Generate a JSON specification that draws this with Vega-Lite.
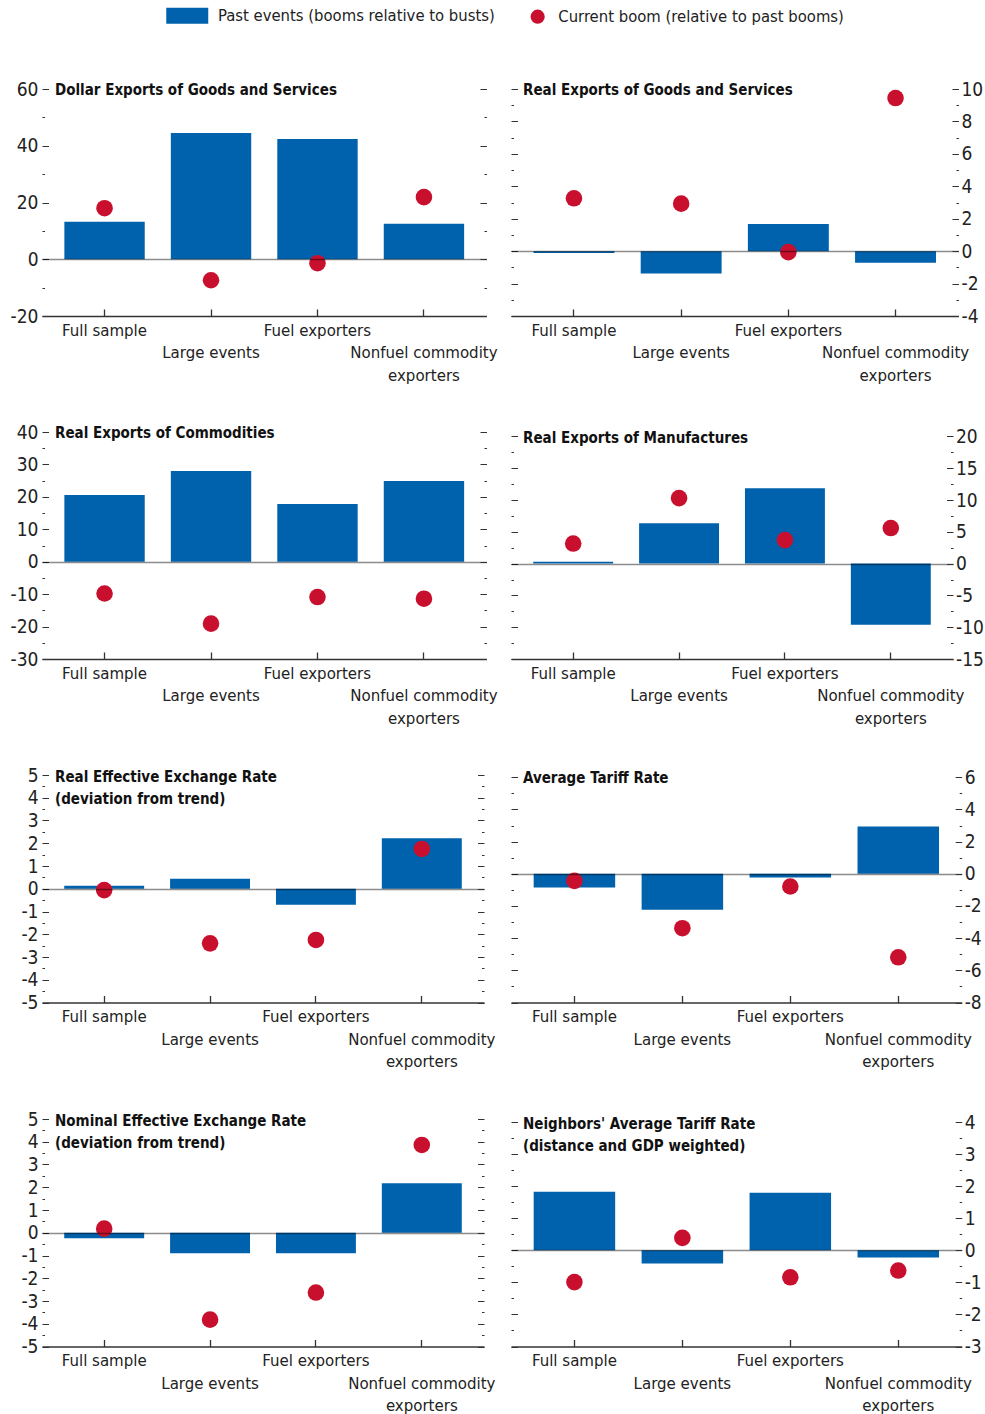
{
  "$schema": "https://vega.github.io/schema/vega-lite/v6.json",
  "padding": {"left": 10, "top": 7, "right": 2, "bottom": 2},
  "background": "white",
  "bounds": "flush",
  "columns": 2,
  "spacing": {"row": 116, "column": 24},
  "config": {
    "view": {"stroke": null},
    "font": "Noto Sans Condensed, DejaVu Sans Condensed, Roboto",
    "axis": {"labelFont": "Noto Sans Condensed, DejaVu Sans Condensed, Roboto", "labelFontSize": 19, "labelColor": "#222", "grid": false, "title": null, "tickColor": "#333", "tickWidth": 1},
    "axisX": {"domain": true, "domainColor": "#333", "domainWidth": 1.5, "tickSize": -7, "labelPadding": 13, "labelFontSize": 16.7, "labelAngle": 0, "labelOverlap": false, "labelLimit": 0, "labelLineHeight": 22.5, "tickWidth": 1.3},
    "axisY": {"domain": false, "labelPadding": 10.5},
    "title": {"font": "Noto Sans Condensed, DejaVu Sans Condensed, Roboto", "fontWeight": "bold", "fontSize": 15, "anchor": "start", "frame": "group", "baseline": "top", "lineHeight": 22, "color": "#111", "offset": -18.2, "dx": 13},
    "legend": {"labelFont": "Noto Sans Condensed, DejaVu Sans Condensed, Roboto", "labelFontSize": 16.5, "labelColor": "#222", "padding": 0, "symbolStrokeWidth": 0, "symbolOpacity": 1, "labelLimit": 500, "title": null}
  },
  "concat": [
        {
          "width": 444.5, "height": 227,
          "title": {"text": "Dollar Exports of Goods and Services"},
          "data": {"values": [
            {"cat": "Full sample", "past": 13.2, "current": 18.0},
            {"cat": "Large events", "past": 44.5, "current": -7.4},
            {"cat": "Fuel exporters", "past": 42.4, "current": -1.4},
            {"cat": "Nonfuel commodity exporters", "past": 12.5, "current": 21.9}
          ]},
          "encoding": {"x": {"field": "cat", "type": "nominal", "sort": null, "scale": {"domain": ["Full sample", "Large events", "Fuel exporters", "Nonfuel commodity exporters"], "paddingInner": 0.245, "paddingOuter": 0.21}, "axis": {"labelExpr": "datum.value === 'Large events' ? ['\u00a0', 'Large events'] : (datum.value === 'Nonfuel commodity exporters' ? ['\u00a0', 'Nonfuel commodity', 'exporters'] : datum.label)"}}},
          "layer": [
            {"mark": {"type": "bar", "stroke": null}, "encoding": {
              "y": {"field": "past", "type": "quantitative", "scale": {"domain": [-20, 60], "nice": false, "zero": false}, "axis": {"orient": "left", "values": [-20, -10, 0, 10, 20, 30, 40, 50, 60], "labelExpr": "datum.value % 20 === 0 ? '' + datum.value : ''", "tickSize": {"condition": {"test": "datum.value % 20 === 0", "value": -6.5}, "value": -2.5}}},
              "fill": {"datum": "Past events (booms relative to busts)", "type": "nominal", "scale": {"range": ["#0062AD"]}, "legend": {"orient": "none", "legendX": 137, "legendY": -81.6, "symbolType": "M-2.625,-1H2.625V1H-2.625Z", "symbolSize": 256, "labelOffset": 22.5}}}},
            {"mark": {"type": "point", "filled": true, "size": 275, "color": "#C8102E", "opacity": 1, "strokeWidth": 0}, "encoding": {
              "y": {"field": "current", "type": "quantitative", "scale": {"domain": [-20, 60], "nice": false, "zero": false}, "axis": {"orient": "right", "values": [-20, -10, 0, 10, 20, 30, 40, 50, 60], "labels": false, "zindex": 1, "grid": true, "gridColor": "#000", "gridWidth": 1.4, "gridOpacity": {"condition": {"test": "datum.value === 0", "value": 0.45}, "value": 0}, "tickSize": {"condition": {"test": "datum.value % 20 === 0", "value": -6.5}, "value": -2.5}}},
              "shape": {"datum": "Current boom (relative to past booms)", "type": "nominal", "scale": {"range": ["circle"]}, "legend": {"orient": "none", "legendX": 487.4, "legendY": -80.6, "symbolSize": 201, "symbolFillColor": "#C8102E", "labelOffset": 12.4}}}}
          ],
          "resolve": {"scale": {"y": "shared"}, "axis": {"y": "independent"}}
        },
        {
          "width": 447.5, "height": 227,
          "title": {"text": "Real Exports of Goods and Services", "dx": 12},
          "data": {"values": [
            {"cat": "Full sample", "past": -0.12, "current": 3.26},
            {"cat": "Large events", "past": -1.38, "current": 2.93},
            {"cat": "Fuel exporters", "past": 1.67, "current": -0.06},
            {"cat": "Nonfuel commodity exporters", "past": -0.72, "current": 9.44}
          ]},
          "encoding": {"x": {"field": "cat", "type": "nominal", "sort": null, "scale": {"domain": ["Full sample", "Large events", "Fuel exporters", "Nonfuel commodity exporters"], "paddingInner": 0.245, "paddingOuter": 0.21}, "axis": {"labelExpr": "datum.value === 'Large events' ? ['\u00a0', 'Large events'] : (datum.value === 'Nonfuel commodity exporters' ? ['\u00a0', 'Nonfuel commodity', 'exporters'] : datum.label)"}}},
          "layer": [
            {"mark": {"type": "bar", "stroke": null}, "encoding": {
              "y": {"field": "past", "type": "quantitative", "scale": {"domain": [-4, 10], "nice": false, "zero": false}, "axis": {"orient": "left", "values": [-4, -3, -2, -1, 0, 1, 2, 3, 4, 5, 6, 7, 8, 9, 10], "labels": false, "tickSize": {"condition": {"test": "datum.value % 2 === 0", "value": -6.5}, "value": -2.5}}},
              "fill": {"datum": "Past events (booms relative to busts)", "type": "nominal", "scale": {"range": ["#0062AD"]}, "legend": {"orient": "none", "legendX": 137, "legendY": -81.6, "symbolType": "M-2.625,-1H2.625V1H-2.625Z", "symbolSize": 256, "labelOffset": 22.5}}}},
            {"mark": {"type": "point", "filled": true, "size": 275, "color": "#C8102E", "opacity": 1, "strokeWidth": 0}, "encoding": {
              "y": {"field": "current", "type": "quantitative", "scale": {"domain": [-4, 10], "nice": false, "zero": false}, "axis": {"orient": "right", "values": [-4, -3, -2, -1, 0, 1, 2, 3, 4, 5, 6, 7, 8, 9, 10], "labelPadding": 9, "labelExpr": "datum.value % 2 === 0 ? '' + datum.value : ''", "zindex": 1, "grid": true, "gridColor": "#000", "gridWidth": 1.4, "gridOpacity": {"condition": {"test": "datum.value === 0", "value": 0.45}, "value": 0}, "tickSize": {"condition": {"test": "datum.value % 2 === 0", "value": -6.5}, "value": -2.5}}},
              "shape": {"datum": "Current boom (relative to past booms)", "type": "nominal", "scale": {"range": ["circle"]}, "legend": {"orient": "none", "legendX": 487.4, "legendY": -80.6, "symbolSize": 201, "symbolFillColor": "#C8102E", "labelOffset": 12.4}}}}
          ],
          "resolve": {"scale": {"y": "shared"}, "axis": {"y": "independent"}}
        },
        {
          "width": 444.5, "height": 227,
          "title": {"text": "Real Exports of Commodities"},
          "data": {"values": [
            {"cat": "Full sample", "past": 20.6, "current": -9.8},
            {"cat": "Large events", "past": 28.0, "current": -19.1},
            {"cat": "Fuel exporters", "past": 17.8, "current": -10.9},
            {"cat": "Nonfuel commodity exporters", "past": 24.9, "current": -11.4}
          ]},
          "encoding": {"x": {"field": "cat", "type": "nominal", "sort": null, "scale": {"domain": ["Full sample", "Large events", "Fuel exporters", "Nonfuel commodity exporters"], "paddingInner": 0.245, "paddingOuter": 0.21}, "axis": {"labelExpr": "datum.value === 'Large events' ? ['\u00a0', 'Large events'] : (datum.value === 'Nonfuel commodity exporters' ? ['\u00a0', 'Nonfuel commodity', 'exporters'] : datum.label)"}}},
          "layer": [
            {"mark": {"type": "bar", "stroke": null}, "encoding": {
              "y": {"field": "past", "type": "quantitative", "scale": {"domain": [-30, 40], "nice": false, "zero": false}, "axis": {"orient": "left", "values": [-30, -25, -20, -15, -10, -5, 0, 5, 10, 15, 20, 25, 30, 35, 40], "labelExpr": "datum.value % 10 === 0 ? '' + datum.value : ''", "tickSize": {"condition": {"test": "datum.value % 10 === 0", "value": -6.5}, "value": -2.5}}},
              "fill": {"datum": "Past events (booms relative to busts)", "type": "nominal", "scale": {"range": ["#0062AD"]}, "legend": {"orient": "none", "legendX": 137, "legendY": -81.6, "symbolType": "M-2.625,-1H2.625V1H-2.625Z", "symbolSize": 256, "labelOffset": 22.5}}}},
            {"mark": {"type": "point", "filled": true, "size": 275, "color": "#C8102E", "opacity": 1, "strokeWidth": 0}, "encoding": {
              "y": {"field": "current", "type": "quantitative", "scale": {"domain": [-30, 40], "nice": false, "zero": false}, "axis": {"orient": "right", "values": [-30, -25, -20, -15, -10, -5, 0, 5, 10, 15, 20, 25, 30, 35, 40], "labels": false, "zindex": 1, "grid": true, "gridColor": "#000", "gridWidth": 1.4, "gridOpacity": {"condition": {"test": "datum.value === 0", "value": 0.45}, "value": 0}, "tickSize": {"condition": {"test": "datum.value % 10 === 0", "value": -6.5}, "value": -2.5}}},
              "shape": {"datum": "Current boom (relative to past booms)", "type": "nominal", "scale": {"range": ["circle"]}, "legend": {"orient": "none", "legendX": 487.4, "legendY": -80.6, "symbolSize": 201, "symbolFillColor": "#C8102E", "labelOffset": 12.4}}}}
          ],
          "resolve": {"scale": {"y": "shared"}, "axis": {"y": "independent"}}
        },
        {
          "width": 442, "height": 227,
          "title": {"text": "Real Exports of Manufactures", "dx": 12},
          "data": {"values": [
            {"cat": "Full sample", "past": 0.3, "current": 3.16},
            {"cat": "Large events", "past": 6.33, "current": 10.3},
            {"cat": "Fuel exporters", "past": 11.87, "current": 3.7},
            {"cat": "Nonfuel commodity exporters", "past": -9.6, "current": 5.6}
          ]},
          "encoding": {"x": {"field": "cat", "type": "nominal", "sort": null, "scale": {"domain": ["Full sample", "Large events", "Fuel exporters", "Nonfuel commodity exporters"], "paddingInner": 0.245, "paddingOuter": 0.21}, "axis": {"labelExpr": "datum.value === 'Large events' ? ['\u00a0', 'Large events'] : (datum.value === 'Nonfuel commodity exporters' ? ['\u00a0', 'Nonfuel commodity', 'exporters'] : datum.label)"}}},
          "layer": [
            {"mark": {"type": "bar", "stroke": null}, "encoding": {
              "y": {"field": "past", "type": "quantitative", "scale": {"domain": [-15, 20.7], "nice": false, "zero": false}, "axis": {"orient": "left", "values": [-15, -12.5, -10, -7.5, -5, -2.5, 0, 2.5, 5, 7.5, 10, 12.5, 15, 17.5, 20], "labels": false, "tickSize": {"condition": {"test": "datum.value % 5 === 0", "value": -6.5}, "value": -2.5}}},
              "fill": {"datum": "Past events (booms relative to busts)", "type": "nominal", "scale": {"range": ["#0062AD"]}, "legend": {"orient": "none", "legendX": 137, "legendY": -81.6, "symbolType": "M-2.625,-1H2.625V1H-2.625Z", "symbolSize": 256, "labelOffset": 22.5}}}},
            {"mark": {"type": "point", "filled": true, "size": 275, "color": "#C8102E", "opacity": 1, "strokeWidth": 0}, "encoding": {
              "y": {"field": "current", "type": "quantitative", "scale": {"domain": [-15, 20.7], "nice": false, "zero": false}, "axis": {"orient": "right", "values": [-15, -12.5, -10, -7.5, -5, -2.5, 0, 2.5, 5, 7.5, 10, 12.5, 15, 17.5, 20], "labelPadding": 9, "labelExpr": "datum.value % 5 === 0 ? '' + datum.value : ''", "zindex": 1, "grid": true, "gridColor": "#000", "gridWidth": 1.4, "gridOpacity": {"condition": {"test": "datum.value === 0", "value": 0.45}, "value": 0}, "tickSize": {"condition": {"test": "datum.value % 5 === 0", "value": -6.5}, "value": -2.5}}},
              "shape": {"datum": "Current boom (relative to past booms)", "type": "nominal", "scale": {"range": ["circle"]}, "legend": {"orient": "none", "legendX": 487.4, "legendY": -80.6, "symbolSize": 201, "symbolFillColor": "#C8102E", "labelOffset": 12.4}}}}
          ],
          "resolve": {"scale": {"y": "shared"}, "axis": {"y": "independent"}}
        },
        {
          "width": 442, "height": 227.5,
          "title": {"text": ["Real Effective Exchange Rate", "(deviation from trend)"], "offset": -40.5},
          "data": {"values": [
            {"cat": "Full sample", "past": 0.13, "current": -0.06},
            {"cat": "Large events", "past": 0.44, "current": -2.4},
            {"cat": "Fuel exporters", "past": -0.7, "current": -2.25},
            {"cat": "Nonfuel commodity exporters", "past": 2.22, "current": 1.75}
          ]},
          "encoding": {"x": {"field": "cat", "type": "nominal", "sort": null, "scale": {"domain": ["Full sample", "Large events", "Fuel exporters", "Nonfuel commodity exporters"], "paddingInner": 0.245, "paddingOuter": 0.21}, "axis": {"labelExpr": "datum.value === 'Large events' ? ['\u00a0', 'Large events'] : (datum.value === 'Nonfuel commodity exporters' ? ['\u00a0', 'Nonfuel commodity', 'exporters'] : datum.label)"}}},
          "layer": [
            {"mark": {"type": "bar", "stroke": null}, "encoding": {
              "y": {"field": "past", "type": "quantitative", "scale": {"domain": [-5, 5], "nice": false, "zero": false}, "axis": {"orient": "left", "values": [-5, -4.5, -4, -3.5, -3, -2.5, -2, -1.5, -1, -0.5, 0, 0.5, 1, 1.5, 2, 2.5, 3, 3.5, 4, 4.5, 5], "labelExpr": "datum.value % 1 === 0 ? '' + datum.value : ''", "tickSize": {"condition": {"test": "datum.value % 1 === 0", "value": -6.5}, "value": -2.5}}},
              "fill": {"datum": "Past events (booms relative to busts)", "type": "nominal", "scale": {"range": ["#0062AD"]}, "legend": {"orient": "none", "legendX": 137, "legendY": -81.6, "symbolType": "M-2.625,-1H2.625V1H-2.625Z", "symbolSize": 256, "labelOffset": 22.5}}}},
            {"mark": {"type": "point", "filled": true, "size": 275, "color": "#C8102E", "opacity": 1, "strokeWidth": 0}, "encoding": {
              "y": {"field": "current", "type": "quantitative", "scale": {"domain": [-5, 5], "nice": false, "zero": false}, "axis": {"orient": "right", "values": [-5, -4.5, -4, -3.5, -3, -2.5, -2, -1.5, -1, -0.5, 0, 0.5, 1, 1.5, 2, 2.5, 3, 3.5, 4, 4.5, 5], "labels": false, "zindex": 1, "grid": true, "gridColor": "#000", "gridWidth": 1.4, "gridOpacity": {"condition": {"test": "datum.value === 0", "value": 0.45}, "value": 0}, "tickSize": {"condition": {"test": "datum.value % 1 === 0", "value": -6.5}, "value": -2.5}}},
              "shape": {"datum": "Current boom (relative to past booms)", "type": "nominal", "scale": {"range": ["circle"]}, "legend": {"orient": "none", "legendX": 487.4, "legendY": -80.6, "symbolSize": 201, "symbolFillColor": "#C8102E", "labelOffset": 12.4}}}}
          ],
          "resolve": {"scale": {"y": "shared"}, "axis": {"y": "independent"}}
        },
        {
          "width": 450.7, "height": 227.5,
          "title": {"text": "Average Tariff Rate", "dx": 12},
          "data": {"values": [
            {"cat": "Full sample", "past": -0.85, "current": -0.44},
            {"cat": "Large events", "past": -2.23, "current": -3.38},
            {"cat": "Fuel exporters", "past": -0.23, "current": -0.79},
            {"cat": "Nonfuel commodity exporters", "past": 2.94, "current": -5.19}
          ]},
          "encoding": {"x": {"field": "cat", "type": "nominal", "sort": null, "scale": {"domain": ["Full sample", "Large events", "Fuel exporters", "Nonfuel commodity exporters"], "paddingInner": 0.245, "paddingOuter": 0.21}, "axis": {"labelExpr": "datum.value === 'Large events' ? ['\u00a0', 'Large events'] : (datum.value === 'Nonfuel commodity exporters' ? ['\u00a0', 'Nonfuel commodity', 'exporters'] : datum.label)"}}},
          "layer": [
            {"mark": {"type": "bar", "stroke": null}, "encoding": {
              "y": {"field": "past", "type": "quantitative", "scale": {"domain": [-8, 6.14], "nice": false, "zero": false}, "axis": {"orient": "left", "values": [-8, -7, -6, -5, -4, -3, -2, -1, 0, 1, 2, 3, 4, 5, 6], "labels": false, "tickSize": {"condition": {"test": "datum.value % 2 === 0", "value": -6.5}, "value": -2.5}}},
              "fill": {"datum": "Past events (booms relative to busts)", "type": "nominal", "scale": {"range": ["#0062AD"]}, "legend": {"orient": "none", "legendX": 137, "legendY": -81.6, "symbolType": "M-2.625,-1H2.625V1H-2.625Z", "symbolSize": 256, "labelOffset": 22.5}}}},
            {"mark": {"type": "point", "filled": true, "size": 275, "color": "#C8102E", "opacity": 1, "strokeWidth": 0}, "encoding": {
              "y": {"field": "current", "type": "quantitative", "scale": {"domain": [-8, 6.14], "nice": false, "zero": false}, "axis": {"orient": "right", "values": [-8, -7, -6, -5, -4, -3, -2, -1, 0, 1, 2, 3, 4, 5, 6], "labelPadding": 9, "labelExpr": "datum.value % 2 === 0 ? '' + datum.value : ''", "zindex": 1, "grid": true, "gridColor": "#000", "gridWidth": 1.4, "gridOpacity": {"condition": {"test": "datum.value === 0", "value": 0.45}, "value": 0}, "tickSize": {"condition": {"test": "datum.value % 2 === 0", "value": -6.5}, "value": -2.5}}},
              "shape": {"datum": "Current boom (relative to past booms)", "type": "nominal", "scale": {"range": ["circle"]}, "legend": {"orient": "none", "legendX": 487.4, "legendY": -80.6, "symbolSize": 201, "symbolFillColor": "#C8102E", "labelOffset": 12.4}}}}
          ],
          "resolve": {"scale": {"y": "shared"}, "axis": {"y": "independent"}}
        },
        {
          "width": 442, "height": 227.5,
          "title": {"text": ["Nominal Effective Exchange Rate", "(deviation from trend)"], "offset": -40.5},
          "data": {"values": [
            {"cat": "Full sample", "past": -0.24, "current": 0.18},
            {"cat": "Large events", "past": -0.9, "current": -3.82},
            {"cat": "Fuel exporters", "past": -0.9, "current": -2.63},
            {"cat": "Nonfuel commodity exporters", "past": 2.18, "current": 3.86}
          ]},
          "encoding": {"x": {"field": "cat", "type": "nominal", "sort": null, "scale": {"domain": ["Full sample", "Large events", "Fuel exporters", "Nonfuel commodity exporters"], "paddingInner": 0.245, "paddingOuter": 0.21}, "axis": {"labelExpr": "datum.value === 'Large events' ? ['\u00a0', 'Large events'] : (datum.value === 'Nonfuel commodity exporters' ? ['\u00a0', 'Nonfuel commodity', 'exporters'] : datum.label)"}}},
          "layer": [
            {"mark": {"type": "bar", "stroke": null}, "encoding": {
              "y": {"field": "past", "type": "quantitative", "scale": {"domain": [-5, 5], "nice": false, "zero": false}, "axis": {"orient": "left", "values": [-5, -4.5, -4, -3.5, -3, -2.5, -2, -1.5, -1, -0.5, 0, 0.5, 1, 1.5, 2, 2.5, 3, 3.5, 4, 4.5, 5], "labelExpr": "datum.value % 1 === 0 ? '' + datum.value : ''", "tickSize": {"condition": {"test": "datum.value % 1 === 0", "value": -6.5}, "value": -2.5}}},
              "fill": {"datum": "Past events (booms relative to busts)", "type": "nominal", "scale": {"range": ["#0062AD"]}, "legend": {"orient": "none", "legendX": 137, "legendY": -81.6, "symbolType": "M-2.625,-1H2.625V1H-2.625Z", "symbolSize": 256, "labelOffset": 22.5}}}},
            {"mark": {"type": "point", "filled": true, "size": 275, "color": "#C8102E", "opacity": 1, "strokeWidth": 0}, "encoding": {
              "y": {"field": "current", "type": "quantitative", "scale": {"domain": [-5, 5], "nice": false, "zero": false}, "axis": {"orient": "right", "values": [-5, -4.5, -4, -3.5, -3, -2.5, -2, -1.5, -1, -0.5, 0, 0.5, 1, 1.5, 2, 2.5, 3, 3.5, 4, 4.5, 5], "labels": false, "zindex": 1, "grid": true, "gridColor": "#000", "gridWidth": 1.4, "gridOpacity": {"condition": {"test": "datum.value === 0", "value": 0.45}, "value": 0}, "tickSize": {"condition": {"test": "datum.value % 1 === 0", "value": -6.5}, "value": -2.5}}},
              "shape": {"datum": "Current boom (relative to past booms)", "type": "nominal", "scale": {"range": ["circle"]}, "legend": {"orient": "none", "legendX": 487.4, "legendY": -80.6, "symbolSize": 201, "symbolFillColor": "#C8102E", "labelOffset": 12.4}}}}
          ],
          "resolve": {"scale": {"y": "shared"}, "axis": {"y": "independent"}}
        },
        {
          "width": 450.7, "height": 227.5,
          "title": {"text": ["Neighbors' Average Tariff Rate", "(distance and GDP weighted)"], "offset": -40.5, "dx": 12},
          "data": {"values": [
            {"cat": "Full sample", "past": 1.83, "current": -0.99},
            {"cat": "Large events", "past": -0.41, "current": 0.39},
            {"cat": "Fuel exporters", "past": 1.8, "current": -0.84},
            {"cat": "Nonfuel commodity exporters", "past": -0.22, "current": -0.63}
          ]},
          "encoding": {"x": {"field": "cat", "type": "nominal", "sort": null, "scale": {"domain": ["Full sample", "Large events", "Fuel exporters", "Nonfuel commodity exporters"], "paddingInner": 0.245, "paddingOuter": 0.21}, "axis": {"labelExpr": "datum.value === 'Large events' ? ['\u00a0', 'Large events'] : (datum.value === 'Nonfuel commodity exporters' ? ['\u00a0', 'Nonfuel commodity', 'exporters'] : datum.label)"}}},
          "layer": [
            {"mark": {"type": "bar", "stroke": null}, "encoding": {
              "y": {"field": "past", "type": "quantitative", "scale": {"domain": [-3, 4.1], "nice": false, "zero": false}, "axis": {"orient": "left", "values": [-3, -2.5, -2, -1.5, -1, -0.5, 0, 0.5, 1, 1.5, 2, 2.5, 3, 3.5, 4], "labels": false, "tickSize": {"condition": {"test": "datum.value % 1 === 0", "value": -6.5}, "value": -2.5}}},
              "fill": {"datum": "Past events (booms relative to busts)", "type": "nominal", "scale": {"range": ["#0062AD"]}, "legend": {"orient": "none", "legendX": 137, "legendY": -81.6, "symbolType": "M-2.625,-1H2.625V1H-2.625Z", "symbolSize": 256, "labelOffset": 22.5}}}},
            {"mark": {"type": "point", "filled": true, "size": 275, "color": "#C8102E", "opacity": 1, "strokeWidth": 0}, "encoding": {
              "y": {"field": "current", "type": "quantitative", "scale": {"domain": [-3, 4.1], "nice": false, "zero": false}, "axis": {"orient": "right", "values": [-3, -2.5, -2, -1.5, -1, -0.5, 0, 0.5, 1, 1.5, 2, 2.5, 3, 3.5, 4], "labelPadding": 9, "labelExpr": "datum.value % 1 === 0 ? '' + datum.value : ''", "zindex": 1, "grid": true, "gridColor": "#000", "gridWidth": 1.4, "gridOpacity": {"condition": {"test": "datum.value === 0", "value": 0.45}, "value": 0}, "tickSize": {"condition": {"test": "datum.value % 1 === 0", "value": -6.5}, "value": -2.5}}},
              "shape": {"datum": "Current boom (relative to past booms)", "type": "nominal", "scale": {"range": ["circle"]}, "legend": {"orient": "none", "legendX": 487.4, "legendY": -80.6, "symbolSize": 201, "symbolFillColor": "#C8102E", "labelOffset": 12.4}}}}
          ],
          "resolve": {"scale": {"y": "shared"}, "axis": {"y": "independent"}}
        }
  ]
}
